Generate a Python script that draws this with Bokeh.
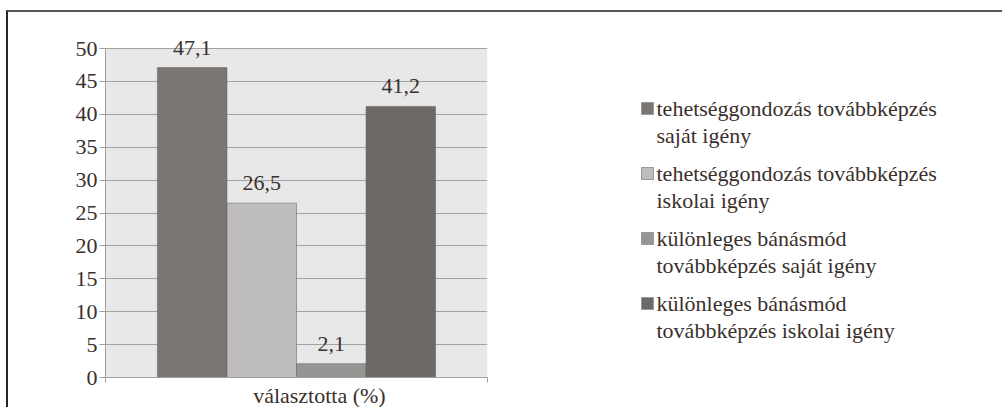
from bokeh.plotting import figure
from bokeh.models import Range1d, FixedTicker, ColumnDataSource, LabelSet, BoxAnnotation
from bokeh.layouts import row
from bokeh.embed import file_html
from bokeh.resources import INLINE
from bokeh.core.properties import value

# ---- data ----
category = "választotta (%)"
series = [
    "tehetséggondozás továbbképzés\nsaját igény",
    "tehetséggondozás továbbképzés\niskolai igény",
    "különleges bánásmód\ntovábbképzés saját igény",
    "különleges bánásmód\ntovábbképzés iskolai igény",
]
values = [47.1, 26.5, 2.1, 41.2]
value_labels = ["47,1", "26,5", "2,1", "41,2"]
colors = ["#7a7673", "#bebdbc", "#979594", "#6d6966"]
y_ticks = [0, 5, 10, 15, 20, 25, 30, 35, 40, 45, 50]
y_min, y_max = 0, 50

FONT = "'Liberation Serif', serif"
FS = "22px"
TXT = "#3b302c"

PX_PER_UNIT = 329 / (y_max - y_min)
HEADROOM = 10  # px of frame above the 50 line so the top value label is not clipped
FW, FH = 382, 329 + HEADROOM
BL, BT, BB, BR = 97, 36 - HEADROOM, 30, 41

# dodge layout of the four bars within the single category
n = len(values)
bar_w = 0.182
xs = [0.5 + (i - (n - 1) / 2) * bar_w for i in range(n)]

src = ColumnDataSource(dict(x=xs, top=values, color=colors, lab=value_labels))

p = figure(frame_width=FW, frame_height=FH, x_range=Range1d(0, 1),
           y_range=Range1d(y_min, y_max + HEADROOM / PX_PER_UNIT),
           output_backend="svg", toolbar_location=None,
           min_border_left=BL, min_border_top=BT, min_border_bottom=BB, min_border_right=BR)
p.background_fill_color = "white"
p.border_fill_color = "white"
p.outline_line_color = None

# plot-area background only up to the top of the value axis
p.add_layout(BoxAnnotation(bottom=y_min, top=y_max, fill_color="#e8e8e8", fill_alpha=1,
                           line_color=None, level="image"))

p.vbar(x="x", top="top", width=bar_w, fill_color="color", line_color="#5f5b59",
       line_alpha=0.5, line_width=1, source=src)
labels = LabelSet(x="x", y="top", text="lab", source=src, text_align="center",
                  text_baseline="middle", y_offset=20, text_font=value(FONT),
                  text_font_size=value(FS), text_color=TXT)
p.add_layout(labels)

# y axis
p.yaxis.ticker = FixedTicker(ticks=y_ticks)
p.yaxis.bounds = (y_min, y_max)
p.yaxis.major_tick_out = 6
p.yaxis.major_tick_in = 0
p.yaxis.minor_tick_line_color = None
p.yaxis.major_label_standoff = 2
p.yaxis.axis_line_color = "#9f9f9f"
p.yaxis.major_tick_line_color = "#9f9f9f"
p.yaxis.major_label_text_font = FONT
p.yaxis.major_label_text_font_size = FS
p.yaxis.major_label_text_color = TXT

# x axis
lab_pos = 0.56
p.xaxis.ticker = FixedTicker(ticks=[lab_pos], minor_ticks=[0, 1])
p.xaxis.major_label_overrides = {lab_pos: category}
p.xaxis.major_tick_out = 0
p.xaxis.major_tick_in = 0
p.xaxis.minor_tick_out = 5
p.xaxis.minor_tick_in = 0
p.xaxis.minor_tick_line_color = "#9f9f9f"
p.xaxis.axis_line_color = "#9f9f9f"
p.xaxis.major_label_standoff = 0
p.xaxis.major_label_text_font = FONT
p.xaxis.major_label_text_font_size = FS
p.xaxis.major_label_text_color = TXT

p.ygrid.ticker = FixedTicker(ticks=y_ticks)
p.ygrid.grid_line_color = "#a3a3a3"
p.xgrid.visible = False

# ---- legend panel (frame aligned with the chart frame) ----
LW = 474
lf = figure(frame_width=LW, frame_height=FH, x_range=Range1d(0, LW), y_range=Range1d(FH, 0),
            output_backend="svg", toolbar_location=None,
            min_border_left=0, min_border_right=0, min_border_top=BT, min_border_bottom=BB)
lf.axis.visible = False
lf.grid.visible = False
lf.outline_line_color = None
lf.background_fill_color = "white"
lf.border_fill_color = "white"

first_y, step, line_h = 60 + HEADROOM, 65, 27
ys = [first_y + i * step for i in range(n)]
line1 = [s.split("\n")[0] for s in series]
line2 = [s.split("\n")[1] for s in series]
lsrc = ColumnDataSource(dict(y=ys, y2=[y + line_h for y in ys], color=colors, l1=line1, l2=line2))
lf.rect(x=119, y="y", width=12, height=12, fill_color="color", line_color="#999999", source=lsrc)
for col, yc in (("l1", "y"), ("l2", "y2")):
    lf.text(x=128, y=yc, text=col, source=lsrc, text_align="left", text_baseline="middle",
            text_font=value(FONT), text_font_size=FS, text_color=TXT)

layout = row(p, lf, styles={"border-top": "2px solid #5a524e", "border-left": "2px solid #2b2522",
                            "margin-left": "6px", "margin-top": "10px"})

open("out.html", "w").write(file_html(layout, INLINE))
